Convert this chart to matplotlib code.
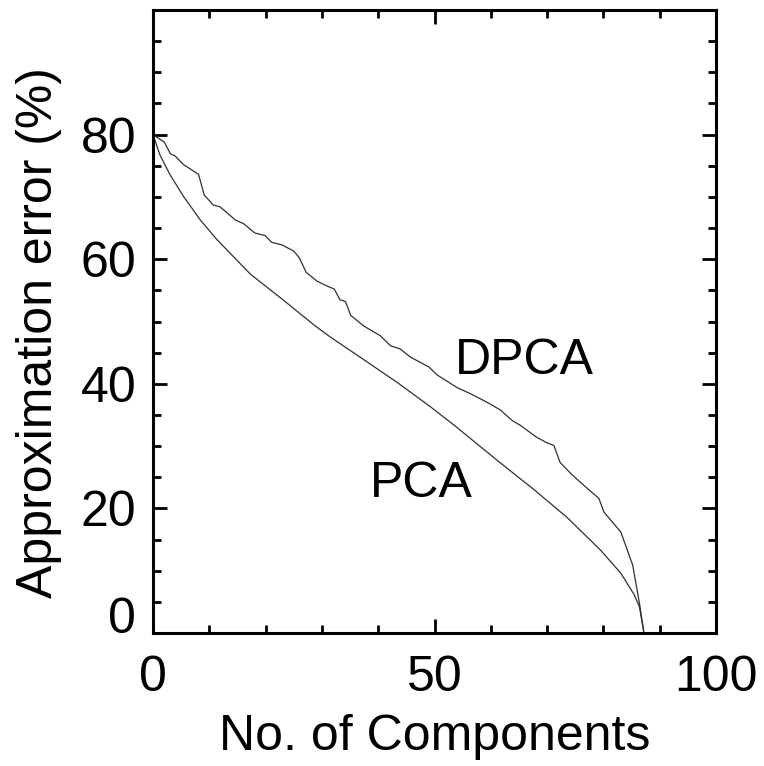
import matplotlib
matplotlib.use('Agg')
import matplotlib.pyplot as plt
from matplotlib.ticker import MultipleLocator

plt.rcParams['font.family'] = ['Liberation Sans', 'DejaVu Sans']

# approximation error
dpca_x = [0, 2.0, 3.1, 3.9, 5.4, 6.6, 8.1, 9.1, 10.7, 11.9, 13.1, 14.6, 16.1,
          18.1, 19.9, 21.1, 22.9, 25.0, 26.0, 27.2, 29.1, 30.9, 32.2, 33.2,
          34.2, 35.1, 37.4, 40.4, 42.2, 43.9, 45.7, 49.0, 50.5, 54.0, 56.4,
          59.4, 61.7, 63.8, 65.3, 68.0, 69.8, 71.2, 72.3, 74.2, 76.9, 79.2,
          80.1, 83.1, 85.2, 86.4, 87.2]
dpca_y = [80.0, 78.8, 76.9, 76.6, 75.2, 74.5, 73.6, 70.3, 68.7, 68.4, 67.5,
          66.3, 65.7, 64.2, 63.8, 62.7, 62.3, 61.3, 60.2, 57.9, 56.5, 55.7,
          55.2, 53.5, 53.2, 51.0, 49.3, 47.7, 46.1, 45.6, 44.3, 42.7, 41.4,
          39.4, 38.4, 37.0, 35.8, 34.1, 33.3, 31.5, 30.6, 30.1, 27.4, 25.6,
          23.4, 21.6, 19.4, 16.2, 10.9, 4.8, 0.0]

pca_x = [0, 1.2, 3.0, 5.4, 8.4, 11.3, 17.3, 23.2, 28.8, 31.5, 37.4, 43.4,
         49.3, 53.7, 61.7, 67.7, 73.6, 79.5, 83.1, 85.5, 86.4, 87.2]
pca_y = [80.0, 76.8, 73.6, 70.1, 66.3, 63.2, 57.6, 53.4, 49.3, 47.5, 43.9,
         40.2, 36.3, 33.2, 27.3, 23.0, 18.5, 13.3, 9.6, 6.1, 4.2, 0.0]

fig = plt.figure(figsize=(7.64, 7.66), dpi=100)
ax = fig.add_axes([153/764, 133/766, 563/764, 623/766])

ax.plot(dpca_x, dpca_y, color='#303030', lw=0.9)
ax.plot(pca_x, pca_y, color='#303030', lw=0.9)

ax.text(53.6, 41.6, 'DPCA', fontsize=36, ha='left', va='baseline')
ax.text(38.5, 21.8, 'PCA', fontsize=36, ha='left', va='baseline')

ax.set_xlim(0, 100)
ax.set_ylim(0, 100)
ax.set_xticks([0, 50, 100])
ax.set_yticks([0, 20, 40, 60, 80])
ax.xaxis.set_minor_locator(MultipleLocator(10))
ax.yaxis.set_minor_locator(MultipleLocator(5))

for s in ax.spines.values():
    s.set_linewidth(2.2)
ax.tick_params(which='both', direction='in', top=True, right=True, width=2.0)
ax.tick_params(which='major', length=10)
ax.tick_params(which='minor', length=6)
ax.tick_params(axis='x', labelsize=36, pad=16)
ax.tick_params(axis='y', labelsize=36, pad=12)
# IDL style: bottom y label sits above the x axis
ax.get_yticklabels()[0].set_verticalalignment('baseline')

ax.set_xlabel('No. of Components', fontsize=36)
ax.set_ylabel('Approximation error (%)', fontsize=36)
ax.yaxis.set_label_coords(-0.162, 0.483)
ax.xaxis.set_label_coords(0.5, -0.13)

fig.savefig('out.png', dpi=100)
